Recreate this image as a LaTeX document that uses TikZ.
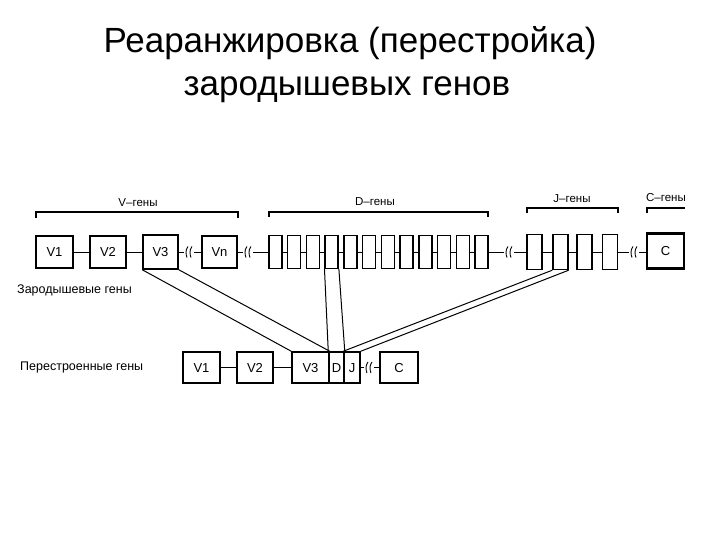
\documentclass[tikz,border=0pt]{standalone}
\usepackage{fontspec}
\setmainfont{Liberation Sans}
\usetikzlibrary{positioning}

\tikzset{
  brkmark/.pic={
    \draw[line width=0.9pt] (-1,-5.5) .. controls (-4,-2) and (-3,3) .. (-2,5.5);
    \draw[line width=0.9pt] (3,-5.5) .. controls (0,-2) and (1,3) .. (2,5.5);
  }
}

\begin{document}
\begin{tikzpicture}[
  x=1pt, y=-1pt,
  font=\fontsize{12.5}{14}\selectfont,
  every node/.style={inner sep=0pt},
  gbox/.style={draw, line width=1.5pt, fill=white, minimum width=36pt, minimum height=32pt,
               font=\fontsize{13}{15}\selectfont, text height=9.4pt, text depth=0pt},
  dbox/.style={draw, line width=1.4pt, fill=white, minimum width=13pt, minimum height=33pt},
  jbox/.style={dbox, minimum width=15pt, minimum height=35pt},
  cbox/.style={gbox, line width=2.4pt, minimum width=37pt, minimum height=35pt},
  brk/.style={minimum width=10pt, minimum height=10pt},
  link/.style={line width=1pt},
  span/.style={line width=1.1pt},
  tag/.style={font=\fontsize{11.5}{13}\selectfont},
]
\useasboundingbox (0,0) rectangle (720,540);

%% ---- Title ----
\node[font=\fontsize{35}{40}\selectfont] (title1) at (350,43) {Реаранжировка (перестройка)};
\node[font=\fontsize{35}{40}\selectfont] (title2) at (347,90) {зародышевых генов};

%% =========================================================
%% Germline genes
%% =========================================================
\node[tag] (Vlab) at (138,203) {V–гены};
\node[tag] (Dlab) at (375,202) {D–гены};
\node[tag] (Jlab) at (572,199) {J–гены};
\node[tag] (Clab) at (666,198) {C–гены};

\draw[span] (36,218) -- (36,212) -- (238,212) -- (238,218);
\draw[span] (269,217) -- (269,212) -- (488,212) -- (488,217);
\draw[span] (527,213) -- (527,208) -- (618,208) -- (618,213);
\draw[span] (647,213) -- (647,208) -- (685,208);

\node[gbox, minimum width=37pt] (V1) at (54.5,252) {V1};
\node[gbox] (V2) at (108,252) {V2};
\node[gbox, minimum width=35pt, minimum height=34pt] (V3) at (160.5,252) {V3};
\node[brk] (k1) at (189,252) {};
\node[gbox, minimum width=35pt] (Vn) at (219.5,252) {Vn};
\node[brk] (k2) at (248,252) {};

\foreach \i in {1,...,12}
  \node[dbox] (D\i) at ({275.5+(\i-1)*18.73},252) {};

\node[brk] (k3) at (509,252) {};
\node[jbox] (J1) at (534.5,252) {};
\node[jbox] (J2) at (560.5,252) {};
\node[jbox] (J3) at (584.5,252) {};
\node[jbox] (J4) at (610,252) {};
\node[brk] (k4) at (634,252) {};
\node[cbox] (C) at (665.5,251) {C};

\node[anchor=west] (germ) at (17,290) {Зародышевые гены};

\draw[link] (V1) -- (V2);
\draw[link] (V2) -- (V3);
\draw[link] (V3) -- (k1);
\draw[link] (k1) -- (Vn);
\draw[link] (Vn) -- (k2);
\draw[link] (k2) -- (D1);
\foreach \i [evaluate=\i as \j using int(\i+1)] in {1,...,11}
  \draw[link] (D\i) -- (D\j);
\draw[link] (D12) -- (k3);
\draw[link] (k3) -- (J1);
\draw[link] (J1) -- (J2);
\draw[link] (J2) -- (J3);
\draw[link] (J3) -- (J4);
\draw[link] (J4) -- (k4);
\draw[link] (k4.east) -- (C.west |- k4.east);

\pic at (k1) {brkmark};
\pic at (k2) {brkmark};
\pic at (k3) {brkmark};
\pic at (k4) {brkmark};

%% =========================================================
%% Rearranged genes
%% =========================================================
\node[anchor=west] (rearr) at (20,367) {Перестроенные гены};

\node[gbox, minimum width=37pt, minimum height=31pt] (V1b) at (201.5,367.5) {V1};
\node[gbox, minimum height=31pt] (V2b) at (255,367.5) {V2};
\node[gbox, minimum width=37pt, minimum height=31pt] (V3b) at (310.5,367.5) {V3};
\node[gbox, minimum width=15pt, minimum height=31pt] (Db) at (336.5,367.5) {D};
\node[gbox, minimum width=16pt, minimum height=31pt] (Jb) at (352,367.5) {J};
\node[brk] (k5) at (369,367.5) {};
\node[gbox, minimum width=38pt, minimum height=31pt] (Cb) at (399,367.5) {C};

\draw[link] (V1b) -- (V2b);
\draw[link] (V2b) -- (V3b);
\draw[link] (Jb) -- (k5);
\draw[link] (k5) -- (Cb);
\pic at (k5) {brkmark};

%% ---- segments joined ----
\draw[link] (V3.south west) -- (V3b.north west);
\draw[link] (V3.south east) -- (V3b.north east);
\draw[link] (D4.south west) -- (Db.north west);
\draw[link] (D4.south east) -- (Db.north east);
\draw[link] (J2.south west) -- (Jb.north west);
\draw[link] (J2.south east) -- (Jb.north east);

\end{tikzpicture}
\end{document}
